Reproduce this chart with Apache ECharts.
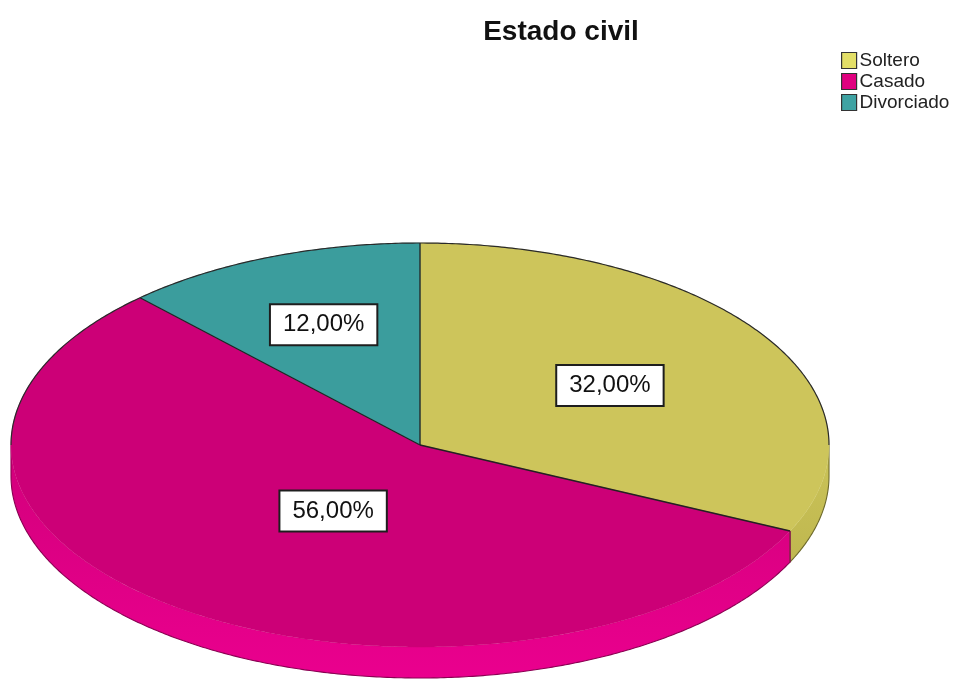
<!DOCTYPE html>
<html>
<head>
<meta charset="utf-8">
<script src="https://cdn.jsdelivr.net/npm/echarts@6/dist/echarts.min.js"></script>
<style>
  html, body { margin: 0; padding: 0; background: #fff; }
  #chart { width: 957px; height: 680px; }
</style>
</head>
<body>
<div id="chart"></div>
<script>
// Estado civil — distribution (%)
const categories = ['Soltero', 'Casado', 'Divorciado'];
const values = [32, 56, 12];

// styling
const topColors = ['#cdc55b', '#cc0077', '#3b9d9d'];
const sideColors = [['#cbc459', '#bfb74f'], ['#d2007b', '#ea008e'], ['#379494', '#2f8a8a']];
const sideEdge = ['#6e6a2c', '#8a0052', '#1f5a5a'];
const legendColors = ['#e3df68', '#e0007f', '#3fa3a3'];
// label placement per slice: fraction of the radius, and a small angular nudge (degrees)
const labelRadius = [0.55, 0.39, 0.64];
const labelNudge = [0, -3, 0];

// ellipse geometry of the tilted pie
const CX = 420, CY = 445, RX = 409, RY = 202, DEPTH = 31;
const FONT = 'Liberation Sans, Arial, sans-serif';

const total = values.reduce((a, b) => a + b, 0);
const starts = [];
values.reduce((acc, v, i) => { starts[i] = acc; return acc + v; }, 0);

function pt(deg, dy) {
  const r = deg * Math.PI / 180;
  return [CX + RX * Math.sin(r), CY - RY * Math.cos(r) + (dy || 0)];
}
function arc(a0, a1, dy) {
  const pts = [];
  const n = Math.max(2, Math.ceil(Math.abs(a1 - a0) / 0.5));
  for (let k = 0; k <= n; k++) pts.push(pt(a0 + (a1 - a0) * k / n, dy));
  return pts;
}
function fmt(v) {
  return (v / total * 100).toFixed(2).replace('.', ',') + '%';
}
function line(points, color, width, z2) {
  return { type: 'polyline', z2: z2, shape: { points: points },
           style: { fill: null, stroke: color, lineWidth: width, lineJoin: 'round' } };
}

function renderSlice(params, api) {
  const i = params.seriesIndex;
  const v = api.value(0);
  const a0 = starts[i] / total * 360;
  const a1 = a0 + v / total * 360;
  const children = [];

  // visible side wall (front half of the ellipse)
  const s0 = Math.max(a0, 90), s1 = Math.min(a1, 270);
  if (s0 < s1) {
    const pts = arc(s0, s1, 0).concat(arc(s1, s0, DEPTH));
    children.push({
      type: 'polygon', z2: 1,
      shape: { points: pts },
      style: {
        fill: new echarts.graphic.LinearGradient(0, 0, 0, 1, [
          { offset: 0, color: sideColors[i][0] },
          { offset: 1, color: sideColors[i][1] }
        ])
      }
    });
    // vertical edges and lower rim of the wall
    const rim = [pt(s0, 0)].concat(arc(s0, s1, DEPTH), [pt(s1, 0)]);
    children.push(line(rim, sideEdge[i], 1.1, 2));
  }

  // top face
  const topPts = [[CX, CY]].concat(arc(a0, a1, 0));
  children.push({
    type: 'polygon', z2: 5,
    shape: { points: topPts },
    style: { fill: topColors[i], stroke: topColors[i], lineWidth: 0.5 }
  });

  // radial edge at the start of the slice
  children.push(line([[CX, CY], pt(a0, 0)], '#222', 1.3, 7));
  // back rim outline (upper half only)
  const back = [];
  if (a0 < 90) back.push([a0, Math.min(a1, 90)]);
  if (a1 > 270) back.push([Math.max(a0, 270), a1]);
  back.forEach(b => children.push(line(arc(b[0], b[1], 0), '#2a2a2a', 1.2, 7)));

  // value label
  const mid = ((a0 + a1) / 2 + labelNudge[i]) * Math.PI / 180;
  const f = labelRadius[i];
  children.push({
    type: 'text', z2: 10,
    x: CX + f * RX * Math.sin(mid),
    y: CY - f * RY * Math.cos(mid),
    style: {
      text: fmt(v),
      fontFamily: FONT,
      fontSize: 24,
      fill: '#111',
      align: 'center',
      verticalAlign: 'middle',
      backgroundColor: '#ffffff',
      borderColor: '#1e1e1e',
      borderWidth: 2,
      padding: [8, 12, 7, 12]
    }
  });
  return { type: 'group', children: children };
}

const chart = echarts.init(document.getElementById('chart'), null, { renderer: 'canvas' });
chart.setOption({
  backgroundColor: '#ffffff',
  animation: false,
  title: {
    text: 'Estado civil',
    left: 556, top: 13,
    textAlign: 'center',
    textStyle: { fontFamily: FONT, fontSize: 28, fontWeight: 'bold', color: '#111' }
  },
  legend: {
    orient: 'vertical',
    left: 841, top: 51,
    padding: 0,
    itemWidth: 15, itemHeight: 16, itemGap: 2,
    icon: 'rect',
    textStyle: { fontFamily: FONT, fontSize: 19, lineHeight: 16, color: '#222', padding: [0, 0, 0, -2] },
    data: categories.map((c, i) => ({
      name: c,
      itemStyle: { color: legendColors[i], borderColor: '#333', borderWidth: 1.2 }
    }))
  },
  series: categories.map((c, i) => ({
    type: 'custom',
    name: c,
    coordinateSystem: 'none',
    itemStyle: { color: legendColors[i] },
    renderItem: renderSlice,
    data: [[values[i]]]
  }))
});
</script>
</body>
</html>
